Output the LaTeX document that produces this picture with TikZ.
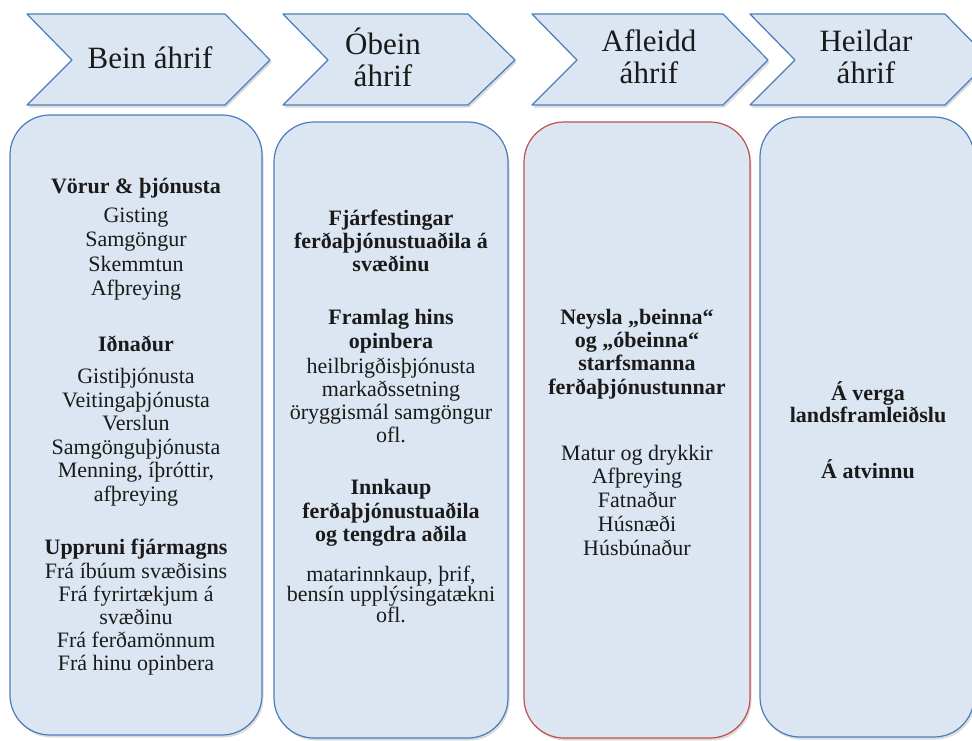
\documentclass[tikz,border=0pt]{standalone}
\usepackage{fontspec}
\setmainfont{Liberation Serif}
\definecolor{boxfill}{HTML}{DCE6F2}
\definecolor{boxblue}{HTML}{4A7EBB}
\definecolor{boxred}{HTML}{C0504D}
\definecolor{txt}{HTML}{1A1A1A}
\begin{document}
\begin{tikzpicture}[x=1pt,y=-1pt,
  shapefill/.style={fill=boxfill, draw=boxblue, line width=1.2pt, line join=round},
  shapeshadow/.style={fill=black!30, draw=none, opacity=0.45, shift={(1.5,2.5)}},
  head/.style={font=\fontsize{31}{32}\selectfont, text=txt, align=center, inner sep=0pt},
  bodytxt/.style={font=\fontsize{22}{23.5}\selectfont, text=txt, align=center, inner sep=0pt},
  bodybold/.style={font=\fontsize{22}{23.5}\selectfont\bfseries, text=txt, align=center, inner sep=0pt}]
\useasboundingbox (0,0) rectangle (972,740);
\clip (0,0) rectangle (972,740);
\fill[white] (0,0) rectangle (972,740);

% chevrons
\foreach \L/\R/\T in {27/225/270, 283/468/515, 532/723/768, 750/945/990}{
  \fill[shapeshadow] (\L,14) -- (\R,14) -- (\T,60) -- (\R,105) -- (\L,105) -- (\L+45,60) -- cycle;
  \draw[shapefill] (\L,14) -- (\R,14) -- (\T,60) -- (\R,105) -- (\L,105) -- (\L+45,60) -- cycle;
}

% boxes
\fill[shapeshadow, rounded corners=40pt] (10,115) rectangle (262,735);
\draw[shapefill, rounded corners=40pt] (10,115) rectangle (262,735);
\fill[shapeshadow, rounded corners=40pt] (274,122) rectangle (508,738);
\draw[shapefill, rounded corners=40pt] (274,122) rectangle (508,738);
\fill[shapeshadow, rounded corners=40pt] (524,122) rectangle (750,738);
\draw[shapefill, draw=boxred, rounded corners=40pt] (524,122) rectangle (750,738);
\fill[shapeshadow, rounded corners=40pt] (760,117) rectangle (974,737);
\draw[shapefill, rounded corners=40pt] (760,117) rectangle (974,737);

% headings
\node[head] (h1) at (150,58) {Bein áhrif};
\node[head] (h2) at (383,57) {Óbein\\áhrif};
\node[head] (h3) at (649,57) {Afleidd\\áhrif};
\node[head] (h4) at (866,57) {Heildar\\áhrif};

% column 1
\node[bodybold] (c1a) at (136,188) {Vörur \& þjónusta};
\node[bodytxt, font=\fontsize{22}{24.3}\selectfont] (c1b) at (136,254) {Gisting\\Samgöngur\\Skemmtun\\Afþreying};
\node[bodybold] (c1c) at (136,344) {Iðnaður};
\node[bodytxt] (c1d) at (136,437) {Gistiþjónusta\\Veitingaþjónusta\\Verslun\\Samgönguþjónusta\\Menning, íþróttir,\\afþreying};
\node[bodybold] (c1e) at (136,549) {Uppruni fjármagns};
\node[bodytxt, font=\fontsize{22}{23.2}\selectfont] (c1f) at (136,619) {Frá íbúum svæðisins\\Frá fyrirtækjum á\\svæðinu\\Frá ferðamönnum\\Frá hinu opinbera};

% column 2
\node[bodybold, font=\fontsize{22}{23}\selectfont\bfseries] (c2a) at (391,241) {Fjárfestingar\\ferðaþjónustuaðila á\\svæðinu};
\node[bodybold, font=\fontsize{22}{24}\selectfont\bfseries] (c2b) at (391,331) {Framlag hins\\opinbera};
\node[bodytxt, font=\fontsize{22}{23}\selectfont] (c2c) at (391,400) {heilbrigðisþjónusta\\markaðssetning\\öryggismál samgöngur\\ofl.};
\node[bodybold] (c2d) at (391,513) {Innkaup\\ferðaþjónustuaðila\\og tengdra aðila};
\node[bodytxt, font=\fontsize{22}{20.5}\selectfont] (c2e) at (391,594) {matarinnkaup, þrif,\\bensín upplýsingatækni\\ofl.};

% column 3
\node[bodybold, font=\fontsize{22}{23.3}\selectfont\bfseries] (c3a) at (637,354) {Neysla „beinna“\\og „óbeinna“\\starfsmanna\\ferðaþjónustunnar};
\node[bodytxt, font=\fontsize{22}{23.75}\selectfont] (c3b) at (637,500) {Matur og drykkir\\Afþreying\\Fatnaður\\Húsnæði\\Húsbúnaður};

% column 4
\node[bodybold, font=\fontsize{22}{22}\selectfont\bfseries] (c4a) at (868,402) {Á verga\\landsframleiðslu};
\node[bodybold] (c4b) at (868,469) {Á atvinnu};
\end{tikzpicture}
\end{document}
